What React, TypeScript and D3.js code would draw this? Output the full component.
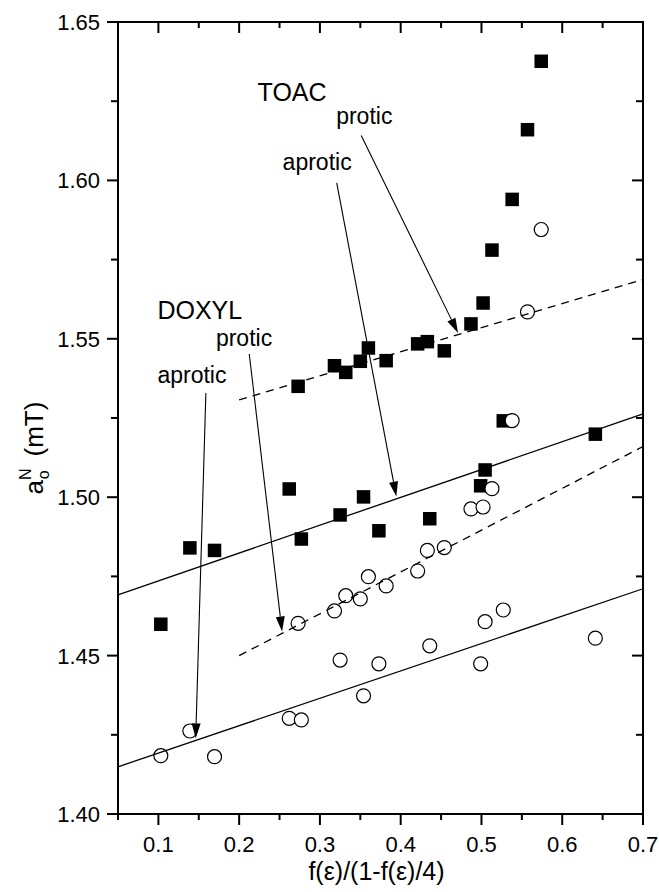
import React from "react";
import * as d3 from "d3";

const width = 659;
const height = 892;
const margin = { top: 22, right: 16, bottom: 78, left: 118 };

// TOAC (upper squares = protic, circles = aprotic)
const toacX = [0.273, 0.318, 0.332, 0.35, 0.36, 0.382, 0.421, 0.433, 0.454, 0.487, 0.502, 0.513, 0.538, 0.557, 0.574];
const toacProtic = [1.535, 1.5415, 1.5394, 1.5429, 1.5471, 1.5431, 1.5484, 1.5491, 1.5462, 1.5547, 1.5613, 1.578, 1.594, 1.616, 1.6376];
const toacAprotic = [1.4602, 1.4641, 1.4689, 1.4679, 1.4749, 1.472, 1.4767, 1.4832, 1.4841, 1.4963, 1.4969, 1.5027, 1.5242, 1.5585, 1.5845];

// DOXYL
const doxylX = [0.103, 0.139, 0.1695, 0.262, 0.277, 0.325, 0.354, 0.373, 0.436, 0.499, 0.5045, 0.527, 0.641];
const doxylProtic = [1.4599, 1.484, 1.4832, 1.5026, 1.4868, 1.4944, 1.5001, 1.4894, 1.4932, 1.5036, 1.5086, 1.5241, 1.5199];
const doxylAprotic = [1.4184, 1.4262, 1.4181, 1.4302, 1.4297, 1.4486, 1.4373, 1.4474, 1.4531, 1.4474, 1.4607, 1.4644, 1.4555];

// fitted lines [x, y] end points
const toacProticFit: [number, number][] = [[0.2, 1.5307], [0.7, 1.5687]];
const toacAproticFit: [number, number][] = [[0.2, 1.45], [0.7, 1.516]];
const doxylProticFit: [number, number][] = [[0.05, 1.4692], [0.7, 1.5263]];
const doxylAproticFit: [number, number][] = [[0.05, 1.4149], [0.7, 1.4711]];

const xTicks = [0.1, 0.2, 0.3, 0.4, 0.5, 0.6, 0.7];
const xMinor = [0.05, 0.15, 0.25, 0.35, 0.45, 0.55, 0.65];
const yTicks = [1.4, 1.45, 1.5, 1.55, 1.6, 1.65];
const yMinor = [1.425, 1.475, 1.525, 1.575, 1.625];

// group labels and arrow annotations, in data units
const groupLabels = [
  { text: "TOAC", x: 0.2228, y: 1.6252 },
  { text: "DOXYL", x: 0.0988, y: 1.5563 },
];
const arrows = [
  { text: "protic", tx: 0.3201, ty: 1.6178, x0: 0.3511, y0: 1.6142, x1: 0.471, y1: 1.5518 },
  { text: "aprotic", tx: 0.2538, ty: 1.6032, x0: 0.3208, y0: 1.5992, x1: 0.3946, y1: 1.5002 },
  { text: "protic", tx: 0.1712, ty: 1.5478, x0: 0.2125, y0: 1.5452, x1: 0.2531, y1: 1.4576 },
  { text: "aprotic", tx: 0.0988, ty: 1.5362, x0: 0.1588, y0: 1.5329, x1: 0.1462, y1: 1.4239 },
];

const font = "'Liberation Sans', Arial, sans-serif";

export default function App() {
  const x = d3.scaleLinear().domain([0.05, 0.7]).range([margin.left, width - margin.right]);
  const y = d3.scaleLinear().domain([1.4, 1.65]).range([height - margin.bottom, margin.top]);
  const line = d3.line<[number, number]>().x((d) => x(d[0])).y((d) => y(d[1]));

  const x0 = x.range()[0], x1 = x.range()[1];
  const y0 = y.range()[0], y1 = y.range()[1];
  const sq = 13.5;

  const squares = [
    ...toacX.map((v, i) => [v, toacProtic[i]]),
    ...doxylX.map((v, i) => [v, doxylProtic[i]]),
  ];
  const circles = [
    ...toacX.map((v, i) => [v, toacAprotic[i]]),
    ...doxylX.map((v, i) => [v, doxylAprotic[i]]),
  ];

  return (
    <svg width={width} height={height} style={{ position: "absolute", left: 0, top: 0, background: "#fff" }} fontFamily={font}>
      {squares.map((d, i) => (
        <rect key={"s" + i} x={x(d[0]) - sq / 2} y={y(d[1]) - sq / 2} width={sq} height={sq} fill="#000" />
      ))}
      {circles.map((d, i) => (
        <circle key={"c" + i} cx={x(d[0])} cy={y(d[1])} r={7} fill="#fff" stroke="#000" strokeWidth={1.2} />
      ))}

      <path d={line(toacProticFit) || ""} stroke="#000" strokeWidth={1.3} strokeDasharray="8,6" fill="none" />
      <path d={line(toacAproticFit) || ""} stroke="#000" strokeWidth={1.3} strokeDasharray="8,6" fill="none" />
      <path d={line(doxylProticFit) || ""} stroke="#000" strokeWidth={1.3} fill="none" />
      <path d={line(doxylAproticFit) || ""} stroke="#000" strokeWidth={1.3} fill="none" />

      {arrows.map((a, i) => {
        const sx = x(a.x0), sy = y(a.y0), ex = x(a.x1), ey = y(a.y1);
        const ang = Math.atan2(ey - sy, ex - sx);
        const len = 15, hw = 4.5;
        const bx = ex - len * Math.cos(ang), by = ey - len * Math.sin(ang);
        const px = -Math.sin(ang) * hw, py = Math.cos(ang) * hw;
        return (
          <g key={"a" + i}>
            <text x={x(a.tx)} y={y(a.ty)} fontSize={23}>{a.text}</text>
            <line x1={sx} y1={sy} x2={bx} y2={by} stroke="#000" strokeWidth={1.1} />
            <path d={`M${ex},${ey}L${bx + px},${by + py}L${bx - px},${by - py}Z`} fill="#000" />
          </g>
        );
      })}
      {groupLabels.map((g) => (
        <text key={g.text} x={x(g.x)} y={y(g.y)} fontSize={25}>{g.text}</text>
      ))}

      {/* frame */}
      <rect x={x0} y={y1} width={x1 - x0} height={y0 - y1} fill="none" stroke="#000" strokeWidth={2} />

      {xTicks.map((t) => (
        <g key={"xt" + t}>
          <line x1={x(t)} x2={x(t)} y1={y0} y2={y0 + 11} stroke="#000" strokeWidth={2} />
          <line x1={x(t)} x2={x(t)} y1={y1} y2={y1 + 11} stroke="#000" strokeWidth={2} />
          <text x={x(t)} y={y0 + 38} fontSize={22} textAnchor="middle">{d3.format(".1f")(t)}</text>
        </g>
      ))}
      {xMinor.map((t) => (
        <g key={"xm" + t}>
          <line x1={x(t)} x2={x(t)} y1={y0} y2={y0 + 6} stroke="#000" strokeWidth={2} />
          <line x1={x(t)} x2={x(t)} y1={y1} y2={y1 + 6} stroke="#000" strokeWidth={2} />
        </g>
      ))}
      {yTicks.map((t) => (
        <g key={"yt" + t}>
          <line x1={x0 - 11} x2={x0} y1={y(t)} y2={y(t)} stroke="#000" strokeWidth={2} />
          <line x1={x1 - 11} x2={x1} y1={y(t)} y2={y(t)} stroke="#000" strokeWidth={2} />
          <text x={x0 - 18} y={y(t)} dy="0.36em" fontSize={22} textAnchor="end">{d3.format(".2f")(t)}</text>
        </g>
      ))}
      {yMinor.map((t) => (
        <g key={"ym" + t}>
          <line x1={x0 - 7} x2={x0} y1={y(t)} y2={y(t)} stroke="#000" strokeWidth={2} />
          <line x1={x1 - 7} x2={x1} y1={y(t)} y2={y(t)} stroke="#000" strokeWidth={2} />
        </g>
      ))}

      <text x={(x0 + x1) / 2 - 4} y={880} fontSize={25} textAnchor="middle">f(ε)/(1-f(ε)/4)</text>
      <text transform={`translate(43, ${(y0 + y1) / 2 + 30}) rotate(-90)`} fontSize={26} textAnchor="middle">
        a
        <tspan fontSize={16} dy={-12}>N</tspan>
        <tspan fontSize={16} dx={-11} dy={18}>o</tspan>
        <tspan dx={14} dy={-6}>(mT)</tspan>
      </text>
    </svg>
  );
}
